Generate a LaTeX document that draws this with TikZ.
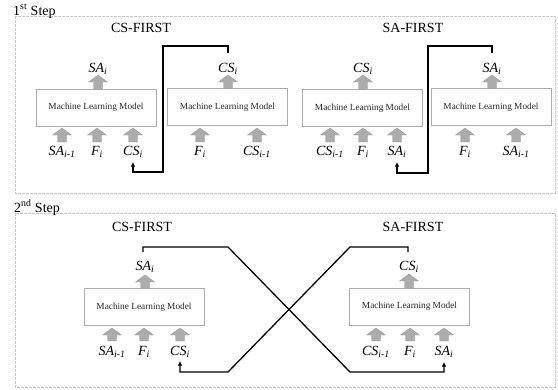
\documentclass[tikz,border=0pt]{standalone}
\usepackage{fontspec}
\setmainfont{Liberation Serif}
\usetikzlibrary{arrows.meta}
\newcommand\garrow[3]{% x, ytop, ybottom
  \filldraw[garr] ({#1-4.5},{#3}) -- ({#1-4.5},{#2+7}) -- ({#1-9.5},{#2+7}) -- ({#1},{#2}) -- ({#1+9.5},{#2+7}) -- ({#1+4.5},{#2+7}) -- ({#1+4.5},{#3}) -- cycle;}
\newcommand\vl[2]{\textit{#1}\textsubscript{\textit{#2}}}
\begin{document}
\begin{tikzpicture}[x=1pt,y=-1pt,
  panel/.style={draw=gray!45, line width=0.6pt, dash pattern=on 3pt off 1pt},
  mlbox/.style={draw=gray!65, line width=0.5pt, minimum width=120pt, minimum height=37pt, inner sep=0pt, font=\fontsize{9.3}{11}\selectfont, text=black!85},
  vlab/.style={font=\fontsize{14}{14}\selectfont, anchor=base, inner sep=0pt},
  ttl/.style={font=\fontsize{14}{14}\selectfont, anchor=base, inner sep=0pt},
  conn/.style={line width=1.3pt, -{Latex[length=4.5pt,width=4.5pt]}},
  garr/.style={fill=gray!65, draw=gray!75, line width=0.4pt}]
\useasboundingbox (0,0) rectangle (558,389);
% panels
\draw[panel] (15,16) rectangle (555,193);
\draw[panel] (15,213) rectangle (555,387);
\node[ttl, anchor=base west] (s1) at (13,15) {1\textsuperscript{st} Step};
\node[ttl, anchor=base west] (s2) at (14,212) {2\textsuperscript{nd} Step};
\node[ttl] (t1) at (141,32) {CS-FIRST};
\node[ttl] (t2) at (413,32) {SA-FIRST};
\node[ttl] (t3) at (142,231) {CS-FIRST};
\node[ttl] (t4) at (413,231) {SA-FIRST};
% boxes
\node[mlbox] (b1) at (96,107.5) {Machine Learning Model};
\node[mlbox] (b2) at (227.5,107) {Machine Learning Model};
\node[mlbox] (b3) at (362.5,108) {Machine Learning Model};
\node[mlbox] (b4) at (491,107) {Machine Learning Model};
\node[mlbox] (b5) at (144,307) {Machine Learning Model};
\node[mlbox] (b6) at (409.5,306.5) {Machine Learning Model};
% gray arrows panel 1
\garrow{98}{75}{89}
\garrow{228}{75}{88.5}
\garrow{363}{75}{89.5}
\garrow{492}{75}{88.5}
\foreach \x in {62,97,133,200,257,330,363,397,465,516} {\garrow{\x}{128}{142}}
% gray arrows panel 2
\garrow{145}{275}{288.5}
\garrow{409}{274}{288}
\foreach \x in {112,144,180,376,410,444} {\garrow{\x}{328}{341}}
% labels panel 1
\node[vlab] (o1) at (98,72) {\vl{SA}{i}};
\node[vlab] (o2) at (228,72) {\vl{CS}{i}};
\node[vlab] (o3) at (363,72) {\vl{CS}{i}};
\node[vlab] (o4) at (492,72) {\vl{SA}{i}};
\node[vlab] (i11) at (62,155.5) {\vl{SA}{i-1}};
\node[vlab] (i12) at (97,155.5) {\vl{F}{i}};
\node[vlab] (i13) at (133,155.5) {\vl{CS}{i}};
\node[vlab] (i21) at (200,155.5) {\vl{F}{i}};
\node[vlab] (i22) at (257,155.5) {\vl{CS}{i-1}};
\node[vlab] (i31) at (330,155.5) {\vl{CS}{i-1}};
\node[vlab] (i32) at (363,155.5) {\vl{F}{i}};
\node[vlab] (i33) at (397,155.5) {\vl{SA}{i}};
\node[vlab] (i41) at (465,155.5) {\vl{F}{i}};
\node[vlab] (i42) at (516,155.5) {\vl{SA}{i-1}};
% labels panel 2
\node[vlab] (o5) at (145,270) {\vl{SA}{i}};
\node[vlab] (o6) at (409,270) {\vl{CS}{i}};
\node[vlab] (i51) at (112,355) {\vl{SA}{i-1}};
\node[vlab] (i52) at (144,355) {\vl{F}{i}};
\node[vlab] (i53) at (180,355) {\vl{CS}{i}};
\node[vlab] (i61) at (376,355) {\vl{CS}{i-1}};
\node[vlab] (i62) at (410,355) {\vl{F}{i}};
\node[vlab] (i63) at (444,355) {\vl{SA}{i}};
% connector start points
\coordinate (c2) at (228,53);
\coordinate (c4) at (492,53);
\coordinate (c5) at (143,252);
\coordinate (c6) at (408,252);
% connectors panel 1
\draw[conn] (c2) -- (228,46) -- (163,46) -- (163,172) -- (i13.south |- 0,172) -- (i13.south |- 0,162);
\draw[conn] (c4) -- (492,46) -- (428,46) -- (428,173) -- (i33.south |- 0,173) -- (i33.south |- 0,162);
% connectors panel 2
\draw[conn] (c5) -- (143,247) -- (228,247) -- (350,372) -- (i63.south |- 0,372) -- (i63.south |- 0,362);
\draw[conn] (c6) -- (408,247) -- (350,247) -- (228,372) -- (i53.south |- 0,372) -- (i53.south |- 0,361);
\end{tikzpicture}
\end{document}
